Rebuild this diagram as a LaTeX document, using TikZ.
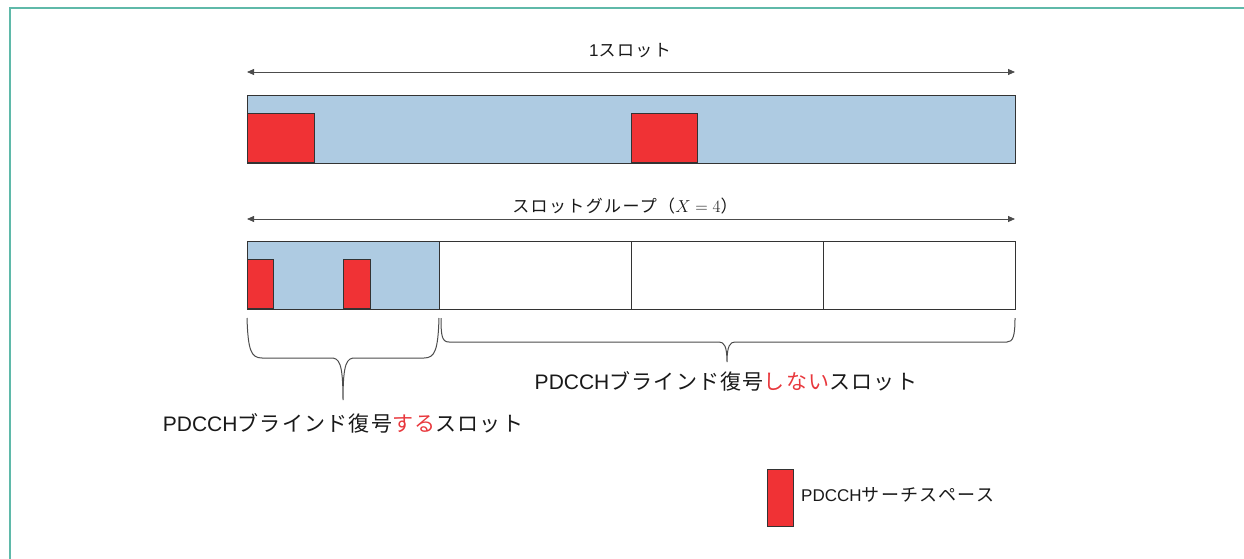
\documentclass[tikz,border=0pt]{standalone}
\usepackage{fontspec}
\setmainfont{Liberation Sans}
\newfontfamily\jps{Noto Sans CJK JP}[LetterSpace=8]
\newfontfamily\jpb{Noto Sans CJK JP}[LetterSpace=6]
\usetikzlibrary{arrows.meta}
\definecolor{framec}{HTML}{5FB9A9}
\definecolor{slotblue}{HTML}{AECBE2}
\definecolor{ssred}{HTML}{F03235}
\definecolor{txtred}{HTML}{E8383D}
\definecolor{edge}{HTML}{333333}
\begin{document}
\begin{tikzpicture}[x=1pt,y=-1pt,
  frameline/.style={draw=framec,line width=1.6pt},
  bar/.style={draw=edge,line width=1.2pt,anchor=north west,inner sep=0pt,minimum height=68pt},
  ss/.style={draw=edge,fill=ssred,line width=1pt,anchor=south west,inner sep=0pt},
  dim/.style={draw=black!70,line width=0.8pt,{Triangle[length=7pt,width=6pt]}-{Triangle[length=7pt,width=6pt]}},
  brace/.style={draw=black!70,line width=1pt},
  lbl/.style={inner sep=0pt,text=black!90}]
\useasboundingbox (0,0) rectangle (1244,559);
\draw[frameline] (1244,8) -- (10,8) -- (10,559);

% top slot
\coordinate (a1l) at (247,72);
\coordinate (a1r) at (1015,72);
\draw[dim] (a1l) -- (a1r);
\node[lbl] (t1) at (630,51) {\fontsize{17}{18}\selectfont 1{\jps スロット}};
\node[bar,fill=slotblue,minimum width=768pt] (slot) at (247,95) {};
\node[ss,minimum width=67pt,minimum height=49pt] (s1) at (247,163) {};
\node[ss,minimum width=66pt,minimum height=49pt] (s2) at (631,163) {};

% slot group
\coordinate (a2l) at (247,219);
\coordinate (a2r) at (1015,219);
\draw[dim] (a2l) -- (a2r);
\node[lbl] (t2) at (625,206) {\fontsize{17}{18}\selectfont{\jps スロットグループ（}$X=4${\jps ）}};
\node[bar,fill=slotblue,minimum width=192pt] (g1) at (247,241) {};
\node[bar,minimum width=192pt] (g2) at (439,241) {};
\node[bar,minimum width=192pt] (g3) at (631,241) {};
\node[bar,minimum width=192pt] (g4) at (823,241) {};
\node[ss,minimum width=26pt,minimum height=49pt] (s3) at (247,309) {};
\node[ss,minimum width=27pt,minimum height=49pt] (s4) at (343,309) {};

% braces
\coordinate (b1l) at (247,318);
\coordinate (b1r) at (439,318);
\coordinate (b1t) at (343,400);
\draw[brace] (b1l) .. controls (248,350) and (251,358) .. (262,358) -- (331,358)
  .. controls (339,358) and (343,362) .. (b1t)
  .. controls (343,362) and (347,358) .. (355,358) -- (424,358)
  .. controls (435,358) and (438,350) .. (b1r);
\coordinate (b2l) at (441,318);
\coordinate (b2r) at (1015,318);
\coordinate (b2t) at (727,362);
\draw[brace] (b2l) .. controls (441,336) and (442,342) .. (449,342) -- (719,342)
  .. controls (724,342) and (727,346) .. (b2t)
  .. controls (727,346) and (730,342) .. (735,342) -- (1007,342)
  .. controls (1013,342) and (1015,336) .. (b2r);

\node[lbl] (l1) at (343,423) {\fontsize{21}{24}\selectfont PDCCH{\jpb ブラインド復号{\color{txtred}する}スロット}};
\node[lbl] (l2) at (726,381) {\fontsize{21}{24}\selectfont PDCCH{\jpb ブラインド復号{\color{txtred}しない}スロット}};

% legend
\node[ss,anchor=north west,minimum width=26pt,minimum height=57pt] (leg) at (767,469) {};
\node[lbl,anchor=west] (legt) at (801,495) {\fontsize{17}{18}\selectfont PDCCH{\fontsize{18}{20}\selectfont\jps サーチスペース}};
\end{tikzpicture}
\end{document}
